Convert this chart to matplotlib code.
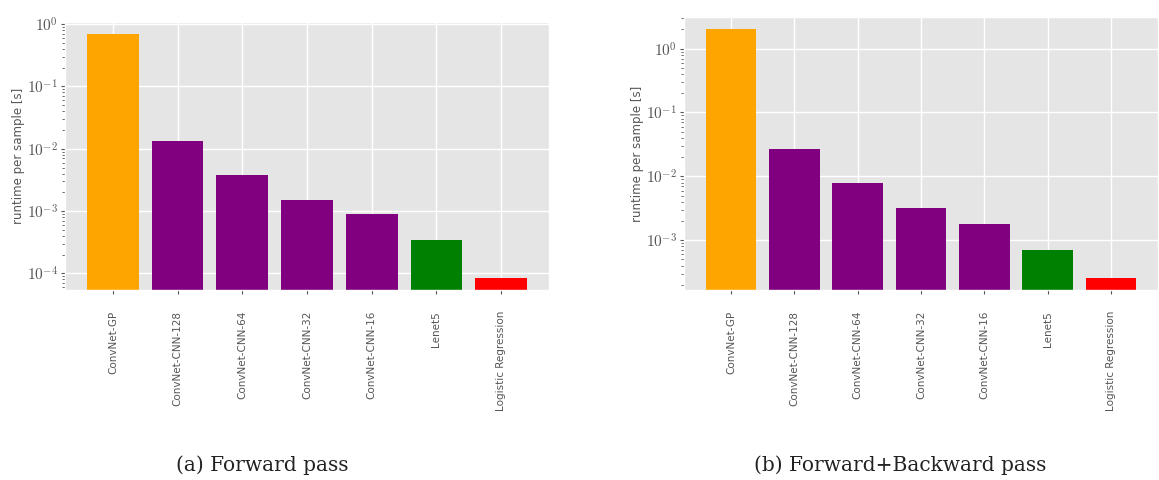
import matplotlib
matplotlib.use('Agg')
import matplotlib.pyplot as plt
from matplotlib.ticker import FuncFormatter, NullFormatter
import numpy as np

# Runtime per sample of each model, forward only and forward+backward
models = ['ConvNet-GP', 'ConvNet-CNN-128', 'ConvNet-CNN-64', 'ConvNet-CNN-32',
          'ConvNet-CNN-16', 'Lenet5', 'Logistic Regression']
forward = [0.69, 0.0132, 0.0038, 0.0015, 0.00091, 0.00034, 0.000085]
forward_backward = [2.0, 0.0267, 0.0079, 0.0032, 0.0018, 0.00071, 0.00026]
colors = ['orange', 'purple', 'purple', 'purple', 'purple', 'green', 'red']
captions = ['(a) Forward pass', '(b) Forward+Backward pass']

plt.style.use('ggplot')
plt.rcParams['mathtext.fontset'] = 'cm'

fig = plt.figure(figsize=(11.59, 4.80), dpi=100)
ax1 = fig.add_axes([65 / 1159, 1 - 290 / 480, 484 / 1159, 268 / 480])
ax2 = fig.add_axes([684 / 1159, 1 - 290 / 480, 474 / 1159, 273 / 480])


def pow10(v, pos):
    return r'$10^{%d}$' % int(round(np.log10(v)))


for ax, values, lab_x in [(ax1, forward, -0.082), (ax2, forward_backward, -0.084)]:
    ax.set_yscale('log')
    ax.bar(range(len(models)), values, width=0.8, color=colors)
    # 5% margin in log space around the data, like the default autoscale
    lo, hi = min(values), max(values)
    span = (hi / lo) ** 0.05
    ax.set_ylim(lo / span, hi * span)
    ax.set_xlim(-0.74, len(models) - 0.26)
    ax.yaxis.set_major_formatter(FuncFormatter(pow10))
    ax.yaxis.set_minor_formatter(NullFormatter())
    ax.set_xticks(range(len(models)))
    ax.set_xticklabels(models, rotation=90, fontsize=7.5, color='#555555')
    ax.set_ylabel('runtime per sample [s]', fontsize=8.5, color='#555555')
    ax.yaxis.set_label_coords(lab_x, 0.5)
    ax.tick_params(axis='y', labelsize=11, colors='#555555', length=3, pad=2)
    ax.tick_params(axis='y', which='minor', length=2, colors='#555555')
    ax.tick_params(axis='x', length=3, colors='#555555', pad=12)
    ax.grid(True, color='white', linewidth=1)
    ax.set_axisbelow(True)

fig.text(0.226, 0.031, captions[0], ha='center', va='center',
         fontsize=14.5, family='DejaVu Serif', color='#222222')
fig.text(0.777, 0.031, captions[1], ha='center', va='center',
         fontsize=14.5, family='DejaVu Serif', color='#222222')

fig.savefig('out.png', dpi=100, facecolor='white')
